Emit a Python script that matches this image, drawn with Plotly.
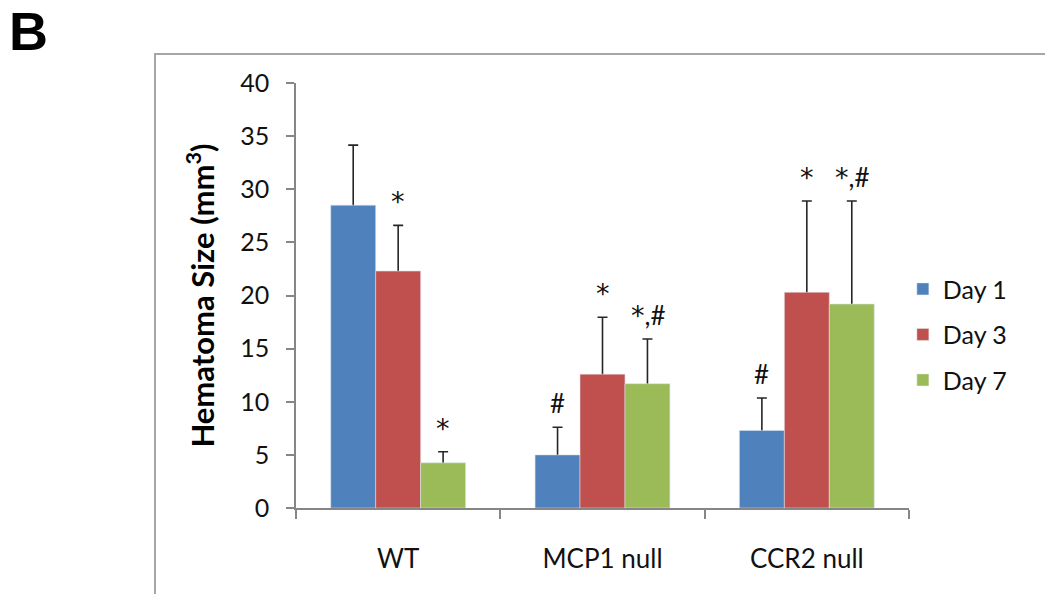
import plotly.graph_objects as go

groups = ["WT", "MCP1 null", "CCR2 null"]
series = ["Day 1", "Day 3", "Day 7"]
means = {
    "Day 1": [28.5, 5.0, 7.3],
    "Day 3": [22.3, 12.6, 20.3],
    "Day 7": [4.25, 11.7, 19.2],
}
errors = {
    "Day 1": [5.65, 2.6, 3.05],
    "Day 3": [4.3, 5.35, 8.6],
    "Day 7": [1.05, 4.2, 9.7],
}
marks = {
    "Day 1": ["", "#", "#"],
    "Day 3": ["*", "*", "*"],
    "Day 7": ["*", "*,#", "*,#"],
}
colors = {"Day 1": "#4f81bd", "Day 3": "#c0504d", "Day 7": "#9bbb59"}
y_ticks = [0, 5, 10, 15, 20, 25, 30, 35, 40]

FONT = "Lato, 'Open Sans', sans-serif"


def mark_html(t):
    return t.replace("*", '<span style="font-family:DejaVu Sans;font-size:27px">*</span>')


fig = go.Figure()
# error bars (drawn first, underneath the visible bars, only the upper part shows)
for s in series:
    fig.add_trace(go.Bar(
        x=groups, y=means[s], offsetgroup=s, legendgroup=s, showlegend=False,
        marker=dict(color="rgba(0,0,0,0)"), hoverinfo="skip",
        error_y=dict(type="data", array=errors[s], symmetric=False,
                     arrayminus=means[s],
                     color="#262626", thickness=1.6, width=5),
    ))
# visible bars
for s in series:
    fig.add_trace(go.Bar(
        name=s, x=groups, y=means[s], offsetgroup=s, legendgroup=s,
        marker=dict(color=colors[s]),
    ))

shift = {"Day 1": -45, "Day 3": 0, "Day 7": 45}
for s in series:
    for g, m, e, t in zip(groups, means[s], errors[s], marks[s]):
        if not t:
            continue
        fig.add_annotation(
            x=g, y=m + e, xref="x", yref="y", text=mark_html(t), showarrow=False,
            xshift=shift[s], yanchor="bottom", yshift=6,
            font=dict(family=FONT, size=26, color="#111"),
        )

# panel letter
fig.add_annotation(text="<b>B</b>", xref="paper", yref="paper",
                   x=-0.472, y=1.122, xanchor="left", yanchor="middle",
                   showarrow=False,
                   font=dict(family="Liberation Sans, Arial", size=54, color="#000"))

# outer frame (top and left visible)
fig.add_shape(type="rect", xref="paper", yref="paper",
              x0=-0.230, x1=2.0, y0=-1.0, y1=1.068,
              line=dict(color="#a6a6a6", width=2), layer="below")

fig.update_layout(
    width=1045, height=594,
    margin=dict(l=296, r=136, t=83, b=86),
    paper_bgcolor="white", plot_bgcolor="white",
    barmode="group", bargap=0.34, bargroupgap=0,
    font=dict(family=FONT, size=25, color="#111"),
    showlegend=True,
    legend=dict(x=0.99, y=0.569, xanchor="left", yanchor="top",
                traceorder="grouped", tracegroupgap=10,
                font=dict(family=FONT, size=25, color="#111"),
                itemwidth=30),
    xaxis=dict(showline=True, linecolor="#868686", linewidth=1.5,
               ticks="outside", tickson="boundaries", ticklen=9,
               tickcolor="#868686", tickwidth=1.5,
               ticklabelstandoff=27,
               tickfont=dict(family=FONT, size=26, color="#111")),
    yaxis=dict(range=[0, 40], tickvals=y_ticks, showgrid=False, zeroline=False,
               showline=True, linecolor="#868686", linewidth=1.5,
               ticks="outside", ticklen=8, tickcolor="#868686", tickwidth=1.5,
               ticklabelstandoff=12,
               tickfont=dict(family=FONT, size=25, color="#111"),
               title=dict(text="<b>Hematoma Size (mm<sup>3</sup>)</b>",
                          font=dict(family=FONT, size=31, color="#000"),
                          standoff=16)),
)

fig.write_html("out.html")
